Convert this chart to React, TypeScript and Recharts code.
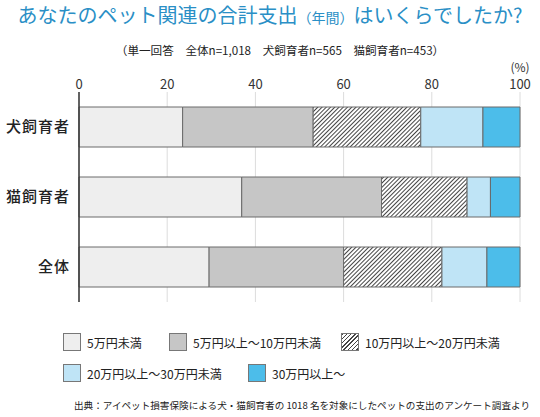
import { BarChart, Bar, XAxis, YAxis, CartesianGrid } from "recharts";

const categories = ["犬飼育者", "猫飼育者", "全体"];
const under5 = [23.5, 36.9, 29.5]; // 5万円未満
const from5to10 = [29.6, 31.7, 30.5];
const from10to20 = [24.4, 19.4, 22.3];
const from20to30 = [14.1, 5.3, 10.2];
const over30 = [8.4, 6.7, 7.5];
const xTicks = [0, 20, 40, 60, 80, 100];

const seriesNames = [
  "5万円未満",
  "5万円以上〜10万円未満",
  "10万円以上〜20万円未満",
  "20万円以上〜30万円未満",
  "30万円以上〜",
];

const data = categories.map((name, i) => ({
  name,
  s1: under5[i],
  s2: from5to10[i],
  s3: from10to20[i],
  s4: from20to30[i],
  s5: over30[i],
}));

const font = '"Noto Sans CJK JP", "Noto Sans", sans-serif';
const edge = "#6a6a6a";
const fills = ["#eeeeee", "#c6c6c6", "url(#hatch)", "#bfe4f6", "#4cbdea"];
const hatchCss = "repeating-linear-gradient(135deg, #444 0 1px, #fff 1px 3px)";

// legend placement
const legendItems = [
  { idx: 0, x: 63, y: 333 },
  { idx: 1, x: 169, y: 333 },
  { idx: 2, x: 341, y: 333 },
  { idx: 3, x: 63, y: 364 },
  { idx: 4, x: 248, y: 364 },
];

export default function App() {
  return (
    <div style={{ position: "absolute", left: 0, top: 0, width: 540, height: 417, background: "#fff", fontFamily: font, color: "#222" }}>
      <div style={{ position: "absolute", top: 3, left: 0, width: 540, textAlign: "center", fontSize: 20, lineHeight: "24px", color: "#2a8fc6" }}>
        あなたのペット関連の合計支出<span style={{ fontSize: 14 }}>（年間）</span>はいくらでしたか?
      </div>
      <div style={{ position: "absolute", top: 42, left: 0, width: 560, textAlign: "center", fontSize: 11.6, lineHeight: "16px", color: "#222" }}>
        （単一回答　全体n=1,018　犬飼育者n=565　猫飼育者n=453）
      </div>
      <div style={{ position: "absolute", top: 60, left: 500, width: 40, textAlign: "center", fontSize: 12, lineHeight: "14px", color: "#333" }}>
        (%)
      </div>

      <div style={{ position: "absolute", top: 0, left: 0 }}>
        <BarChart
          width={540}
          height={310}
          data={data}
          layout="vertical"
          barSize={40}
          margin={{ top: 72, right: 20, bottom: 8, left: 0 }}
        >
          <defs>
            <pattern id="hatch" width="3" height="3" patternUnits="userSpaceOnUse" patternTransform="rotate(45)">
              <rect width="3" height="3" fill="#fff" />
              <line x1="0.5" y1="0" x2="0.5" y2="3" stroke="#444" strokeWidth="1" />
            </pattern>
          </defs>
          <CartesianGrid horizontal={false} vertical stroke="#dcdcdc" />
          <XAxis
            type="number"
            orientation="top"
            domain={[0, 100]}
            ticks={xTicks}
            height={20}
            axisLine={false}
            tickLine={false}
            tickSize={0}
            tickMargin={3}
            tick={{ fontSize: 13, fill: "#333", fontFamily: font }}
          />
          <YAxis
            type="category"
            dataKey="name"
            width={79}
            axisLine={{ stroke: "#333", strokeWidth: 1.5 }}
            tickLine={false}
            tickSize={0}
            tickMargin={9}
            tick={{ fontSize: 15, fill: "#222", fontFamily: font, fontWeight: 500, letterSpacing: 1 }}
          />
          {["s1", "s2", "s3", "s4", "s5"].map((k, i) => (
            <Bar
              key={k}
              dataKey={k}
              stackId="a"
              fill={fills[i]}
              stroke={edge}
              strokeWidth={1}
              isAnimationActive={false}
            />
          ))}
        </BarChart>
      </div>

      {legendItems.map(({ idx, x, y }) => (
        <div key={idx} style={{ position: "absolute", left: x, top: y, display: "flex", alignItems: "center", height: 18 }}>
          <div
            style={{
              width: 16,
              height: 16,
              border: "1px solid #777",
              background: idx === 2 ? hatchCss : fills[idx],
              marginRight: 6,
            }}
          />
          <span style={{ fontSize: 12, color: "#222", whiteSpace: "nowrap" }}>{seriesNames[idx]}</span>
        </div>
      ))}

      <div style={{ position: "absolute", top: 398, left: 74, fontSize: 9.6, lineHeight: "14px", color: "#222", whiteSpace: "nowrap" }}>
        出典：アイペット損害保険による犬・猫飼育者の 1018 名を対象にしたペットの支出のアンケート調査より
      </div>
    </div>
  );
}
